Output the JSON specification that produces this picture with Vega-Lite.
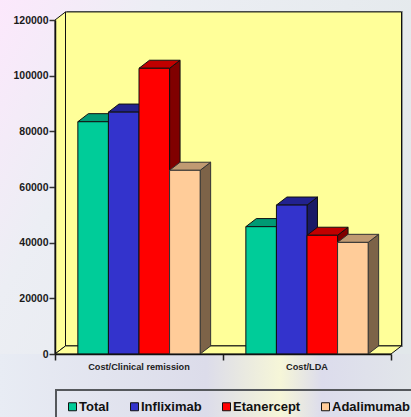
{
  "$schema": "https://vega.github.io/schema/vega-lite/v6.json",
  "width": 336,
  "height": 334,
  "autosize": "none",
  "padding": {"left": 55, "top": 20, "right": 20, "bottom": 63},
  "background": "#e6eaee",
  "config": {"view": {"stroke": null}, "font": "Liberation Sans"},
  "datasets": {
    "page": [{"left": -0.33, "right": 2.13, "bottom": -22700, "top": 127200}],
    "pageBottom": [{"left": -0.33, "right": 2.13, "bottom": -22700, "top": 0}],
    "backWall": [{"left": 0.0625, "right": 2.0625, "bottom": 2900, "top": 122900}],
    "bars": [
      {"category": "Cost/Clinical remission", "series": "Total", "cost": 83450, "base": 0, "start": 0.136, "end": 0.318},
      {"category": "Cost/Clinical remission", "series": "Infliximab", "cost": 86900, "base": 0, "start": 0.318, "end": 0.5},
      {"category": "Cost/Clinical remission", "series": "Etanercept", "cost": 102650, "base": 0, "start": 0.5, "end": 0.682},
      {"category": "Cost/Clinical remission", "series": "Adalimumab", "cost": 66000, "base": 0, "start": 0.682, "end": 0.864},
      {"category": "Cost/LDA", "series": "Total", "cost": 45750, "base": 0, "start": 1.136, "end": 1.318},
      {"category": "Cost/LDA", "series": "Infliximab", "cost": 53500, "base": 0, "start": 1.318, "end": 1.5},
      {"category": "Cost/LDA", "series": "Etanercept", "cost": 42650, "base": 0, "start": 1.5, "end": 1.682},
      {"category": "Cost/LDA", "series": "Adalimumab", "cost": 40100, "base": 0, "start": 1.682, "end": 1.864}
    ],
    "sides": [
      {"category": "A", "series": "Total", "x": 0.318, "low": 0, "high": 83450},
      {"category": "A", "series": "Total", "x": 0.3805, "low": 2900, "high": 86350},
      {"category": "A", "series": "Infliximab", "x": 0.5, "low": 0, "high": 86900},
      {"category": "A", "series": "Infliximab", "x": 0.5625, "low": 2900, "high": 89800},
      {"category": "A", "series": "Etanercept", "x": 0.682, "low": 0, "high": 102650},
      {"category": "A", "series": "Etanercept", "x": 0.7445, "low": 2900, "high": 105550},
      {"category": "A", "series": "Adalimumab", "x": 0.864, "low": 0, "high": 66000},
      {"category": "A", "series": "Adalimumab", "x": 0.9265, "low": 2900, "high": 68900},
      {"category": "B", "series": "Total", "x": 1.318, "low": 0, "high": 45750},
      {"category": "B", "series": "Total", "x": 1.3805, "low": 2900, "high": 48650},
      {"category": "B", "series": "Infliximab", "x": 1.5, "low": 0, "high": 53500},
      {"category": "B", "series": "Infliximab", "x": 1.5625, "low": 2900, "high": 56400},
      {"category": "B", "series": "Etanercept", "x": 1.682, "low": 0, "high": 42650},
      {"category": "B", "series": "Etanercept", "x": 1.7445, "low": 2900, "high": 45550},
      {"category": "B", "series": "Adalimumab", "x": 1.864, "low": 0, "high": 40100},
      {"category": "B", "series": "Adalimumab", "x": 1.9265, "low": 2900, "high": 43000}
    ],
    "tops": [
      {"category": "A", "series": "Total", "level": 83450, "from": 0.136, "to": 0.318},
      {"category": "A", "series": "Total", "level": 86350, "from": 0.1985, "to": 0.3805},
      {"category": "A", "series": "Infliximab", "level": 86900, "from": 0.318, "to": 0.5},
      {"category": "A", "series": "Infliximab", "level": 89800, "from": 0.3805, "to": 0.5625},
      {"category": "A", "series": "Etanercept", "level": 102650, "from": 0.5, "to": 0.682},
      {"category": "A", "series": "Etanercept", "level": 105550, "from": 0.5625, "to": 0.7445},
      {"category": "A", "series": "Adalimumab", "level": 66000, "from": 0.682, "to": 0.864},
      {"category": "A", "series": "Adalimumab", "level": 68900, "from": 0.7445, "to": 0.9265},
      {"category": "B", "series": "Total", "level": 45750, "from": 1.136, "to": 1.318},
      {"category": "B", "series": "Total", "level": 48650, "from": 1.1985, "to": 1.3805},
      {"category": "B", "series": "Infliximab", "level": 53500, "from": 1.318, "to": 1.5},
      {"category": "B", "series": "Infliximab", "level": 56400, "from": 1.3805, "to": 1.5625},
      {"category": "B", "series": "Etanercept", "level": 42650, "from": 1.5, "to": 1.682},
      {"category": "B", "series": "Etanercept", "level": 45550, "from": 1.5625, "to": 1.7445},
      {"category": "B", "series": "Adalimumab", "level": 40100, "from": 1.682, "to": 1.864},
      {"category": "B", "series": "Adalimumab", "level": 43000, "from": 1.7445, "to": 1.9265}
    ],
    "leftWall": [
      {"x": 0, "low": 0, "high": 120000},
      {"x": 0.0625, "low": 2900, "high": 122900}
    ],
    "floor": [
      {"level": 0, "from": 0, "to": 2},
      {"level": 2900, "from": 0.0625, "to": 2.0625}
    ],
    "groupLabels": [
      {"category": "Cost/Clinical remission", "x": 0.5, "base": 0},
      {"category": "Cost/LDA", "x": 1.5, "base": 0}
    ]
  },
  "layer": [
    {
      "description": "Washed-out page backdrop, left side tinted pink at the top",
      "data": {"name": "page"},
      "mark": {"type": "rect", "fill": {"x1": 0, "y1": 0, "x2": 1, "y2": 0.55, "gradient": "linear", "stops": [{"offset": 0, "color": "#fce8fc"}, {"offset": 0.3, "color": "#eceef4"}, {"offset": 1, "color": "#e2e8ea"}]}},
      "encoding": {
        "x": {"field": "left", "type": "quantitative", "scale": {"domain": [0, 2], "nice": false, "zero": false}, "axis": {"values": [0, 1, 2], "labels": false, "title": null, "grid": false, "tickSize": 6, "tickWidth": 1.5, "tickColor": "#222222", "domainColor": "#111111", "domainWidth": 1.5, "zindex": 1}},
        "x2": {"field": "right"},
        "y": {"field": "bottom", "type": "quantitative", "scale": {"domain": [0, 120000], "nice": false, "zero": false}, "axis": {"values": [0, 20000, 40000, 60000, 80000, 100000, 120000], "format": "d", "title": null, "grid": false, "tickSize": 6, "tickWidth": 1.5, "tickColor": "#333333", "domainColor": "#111111", "domainWidth": 1.5, "labelFont": "Liberation Sans", "labelFontWeight": "bold", "labelFontSize": 10.5, "labelColor": "#1a1a1a", "labelPadding": 1, "zindex": 1}},
        "y2": {"field": "top"}
      }
    },
    {
      "description": "Pale band across the bottom of the page",
      "data": {"name": "pageBottom"},
      "mark": {"type": "rect", "fill": {"x1": 0, "y1": 0, "x2": 1, "y2": 0, "gradient": "linear", "stops": [{"offset": 0, "color": "#e8ecf4"}, {"offset": 0.5, "color": "#dcdcea"}, {"offset": 0.68, "color": "#f6f6d8"}, {"offset": 0.78, "color": "#dcdcec"}, {"offset": 1, "color": "#e2e6ea"}]}},
      "encoding": {
        "x": {"field": "left", "type": "quantitative"},
        "x2": {"field": "right"},
        "y": {"field": "bottom", "type": "quantitative"},
        "y2": {"field": "top"}
      }
    },
    {
      "description": "Soft shadow along the back wall",
      "data": {"name": "backWall"},
      "mark": {"type": "rect", "fill": "#8f9696", "xOffset": 1.5, "x2Offset": 1.5, "yOffset": 1, "y2Offset": -1},
      "encoding": {
        "x": {"field": "left", "type": "quantitative"},
        "x2": {"field": "right"},
        "y": {"field": "bottom", "type": "quantitative"},
        "y2": {"field": "top"}
      }
    },
    {
      "description": "Back wall",
      "data": {"name": "backWall"},
      "mark": {"type": "rect", "fill": "#ffff99", "stroke": "#111111", "strokeWidth": 1},
      "encoding": {
        "x": {"field": "left", "type": "quantitative"},
        "x2": {"field": "right"},
        "y": {"field": "bottom", "type": "quantitative"},
        "y2": {"field": "top"}
      }
    },
    {
      "description": "Left wall",
      "data": {"name": "leftWall"},
      "mark": {"type": "area", "orient": "vertical", "fill": "#ffff99", "stroke": "#111111", "strokeWidth": 1},
      "encoding": {
        "x": {"field": "x", "type": "quantitative"},
        "y": {"field": "low", "type": "quantitative"},
        "y2": {"field": "high"}
      }
    },
    {
      "description": "Floor",
      "data": {"name": "floor"},
      "mark": {"type": "area", "orient": "horizontal", "fill": "#ffff99", "stroke": "#111111", "strokeWidth": 1},
      "encoding": {
        "y": {"field": "level", "type": "quantitative"},
        "x": {"field": "from", "type": "quantitative"},
        "x2": {"field": "to"}
      }
    },
    {
      "data": {"name": "sides"},
      "transform": [{"filter": "datum.series === 'Total'"}],
      "mark": {"type": "area", "orient": "vertical", "fill": "#006e52", "stroke": "#111111", "strokeWidth": 1},
      "encoding": {"x": {"field": "x", "type": "quantitative"}, "y": {"field": "low", "type": "quantitative"}, "y2": {"field": "high"}, "detail": {"field": "category"}}
    },
    {
      "data": {"name": "tops"},
      "transform": [{"filter": "datum.series === 'Total'"}],
      "mark": {"type": "area", "orient": "horizontal", "fill": "#009a74", "stroke": "#111111", "strokeWidth": 1},
      "encoding": {"y": {"field": "level", "type": "quantitative"}, "x": {"field": "from", "type": "quantitative"}, "x2": {"field": "to"}, "detail": {"field": "category"}}
    },
    {
      "data": {"name": "bars"},
      "transform": [{"filter": "datum.series === 'Total'"}],
      "mark": {"type": "rect", "stroke": "#111111", "strokeWidth": 1},
      "encoding": {
        "x": {"field": "start", "type": "quantitative"}, "x2": {"field": "end"},
        "y": {"field": "cost", "type": "quantitative"}, "y2": {"field": "base"},
        "fill": {
          "field": "series", "type": "nominal",
          "scale": {"domain": ["Total", "Infliximab", "Etanercept", "Adalimumab"], "range": ["#00cc99", "#3333cc", "#ff0000", "#ffcc99"]},
          "legend": {
            "orient": "none", "legendX": 1, "legendY": 370, "direction": "horizontal", "columns": 4,
            "title": null, "padding": 10, "strokeColor": "#55585c",
            "symbolType": "square", "symbolSize": 64, "symbolStrokeColor": "#111111", "symbolStrokeWidth": 1,
            "labelFont": "Liberation Sans", "labelFontWeight": "bold", "labelFontSize": 13, "labelColor": "#111111",
            "columnPadding": 18, "labelOffset": 0, "symbolOpacity": 1,
            "encode": {"legend": {"update": {"strokeWidth": {"value": 2}}}}
          }
        }
      }
    },
    {
      "data": {"name": "sides"},
      "transform": [{"filter": "datum.series === 'Infliximab'"}],
      "mark": {"type": "area", "orient": "vertical", "fill": "#1a1a66", "stroke": "#111111", "strokeWidth": 1},
      "encoding": {"x": {"field": "x", "type": "quantitative"}, "y": {"field": "low", "type": "quantitative"}, "y2": {"field": "high"}, "detail": {"field": "category"}}
    },
    {
      "data": {"name": "tops"},
      "transform": [{"filter": "datum.series === 'Infliximab'"}],
      "mark": {"type": "area", "orient": "horizontal", "fill": "#22228f", "stroke": "#111111", "strokeWidth": 1},
      "encoding": {"y": {"field": "level", "type": "quantitative"}, "x": {"field": "from", "type": "quantitative"}, "x2": {"field": "to"}, "detail": {"field": "category"}}
    },
    {
      "data": {"name": "bars"},
      "transform": [{"filter": "datum.series === 'Infliximab'"}],
      "mark": {"type": "rect", "stroke": "#111111", "strokeWidth": 1},
      "encoding": {"x": {"field": "start", "type": "quantitative"}, "x2": {"field": "end"}, "y": {"field": "cost", "type": "quantitative"}, "y2": {"field": "base"}, "fill": {"field": "series", "type": "nominal"}}
    },
    {
      "data": {"name": "sides"},
      "transform": [{"filter": "datum.series === 'Etanercept'"}],
      "mark": {"type": "area", "orient": "vertical", "fill": "#800000", "stroke": "#111111", "strokeWidth": 1},
      "encoding": {"x": {"field": "x", "type": "quantitative"}, "y": {"field": "low", "type": "quantitative"}, "y2": {"field": "high"}, "detail": {"field": "category"}}
    },
    {
      "data": {"name": "tops"},
      "transform": [{"filter": "datum.series === 'Etanercept'"}],
      "mark": {"type": "area", "orient": "horizontal", "fill": "#c00000", "stroke": "#111111", "strokeWidth": 1},
      "encoding": {"y": {"field": "level", "type": "quantitative"}, "x": {"field": "from", "type": "quantitative"}, "x2": {"field": "to"}, "detail": {"field": "category"}}
    },
    {
      "data": {"name": "bars"},
      "transform": [{"filter": "datum.series === 'Etanercept'"}],
      "mark": {"type": "rect", "stroke": "#111111", "strokeWidth": 1},
      "encoding": {"x": {"field": "start", "type": "quantitative"}, "x2": {"field": "end"}, "y": {"field": "cost", "type": "quantitative"}, "y2": {"field": "base"}, "fill": {"field": "series", "type": "nominal"}}
    },
    {
      "data": {"name": "sides"},
      "transform": [{"filter": "datum.series === 'Adalimumab'"}],
      "mark": {"type": "area", "orient": "vertical", "fill": "#7d6348", "stroke": "#333333", "strokeWidth": 1},
      "encoding": {"x": {"field": "x", "type": "quantitative"}, "y": {"field": "low", "type": "quantitative"}, "y2": {"field": "high"}, "detail": {"field": "category"}}
    },
    {
      "data": {"name": "tops"},
      "transform": [{"filter": "datum.series === 'Adalimumab'"}],
      "mark": {"type": "area", "orient": "horizontal", "fill": "#c09a72", "stroke": "#333333", "strokeWidth": 1},
      "encoding": {"y": {"field": "level", "type": "quantitative"}, "x": {"field": "from", "type": "quantitative"}, "x2": {"field": "to"}, "detail": {"field": "category"}}
    },
    {
      "data": {"name": "bars"},
      "transform": [{"filter": "datum.series === 'Adalimumab'"}],
      "mark": {"type": "rect", "stroke": "#333333", "strokeWidth": 1},
      "encoding": {"x": {"field": "start", "type": "quantitative"}, "x2": {"field": "end"}, "y": {"field": "cost", "type": "quantitative"}, "y2": {"field": "base"}, "fill": {"field": "series", "type": "nominal"}}
    },
    {
      "description": "Category names under the axis",
      "data": {"name": "groupLabels"},
      "mark": {"type": "text", "font": "Liberation Sans", "fontWeight": "bold", "fontSize": 9.2, "color": "#222222", "dy": 13, "align": "center", "baseline": "middle"},
      "encoding": {
        "x": {"field": "x", "type": "quantitative"},
        "y": {"field": "base", "type": "quantitative"},
        "text": {"field": "category"}
      }
    }
  ]
}
